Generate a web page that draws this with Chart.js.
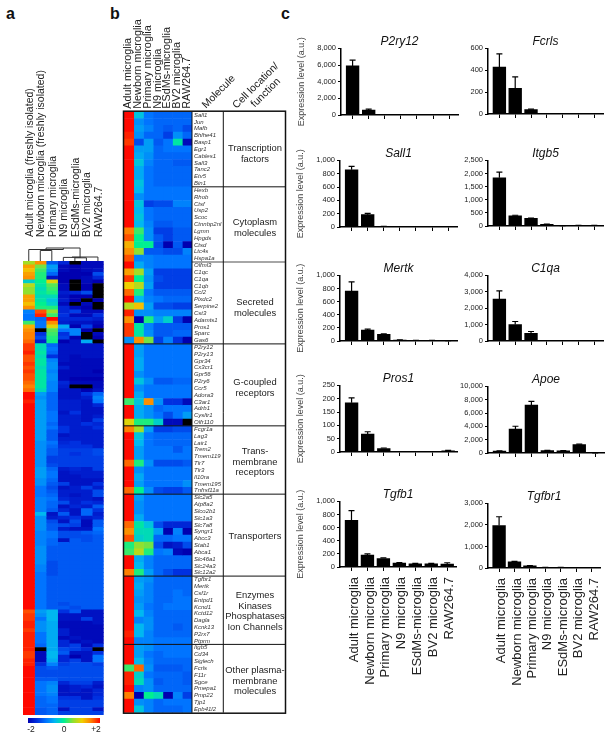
<!DOCTYPE html>
<html>
<head>
<meta charset="utf-8">
<script src="https://cdn.jsdelivr.net/npm/chart.js@4"></script>
<style>
  html, body { margin: 0; padding: 0; background: #fff; }
  body { position: relative; width: 612px; height: 738px; overflow: hidden; font-family: "Liberation Sans", Arial, sans-serif; color: #222; }
  canvas { position: absolute; }
  .txt { position: absolute; white-space: nowrap; }
  .letter { font-weight: bold; font-size: 16px; color: #111; }
  .group { width: 62px; left: 224px; text-align: center; font-size: 9.4px; line-height: 10.7px; white-space: nowrap; }
  .rot { font-size: 10.5px; transform: translate(-50%, -50%) rotate(-45deg); }
  .scale { font-size: 8.5px; transform: translateX(-50%); }
</style>
</head>
<body>
<div class="txt letter" style="left:6px;top:5px">a</div>
<div class="txt letter" style="left:110px;top:5px">b</div>
<div class="txt letter" style="left:281px;top:5px">c</div>

<canvas id="heatA" width="120" height="738" style="left:0;top:0"></canvas>
<canvas id="heatB" width="175" height="738" style="left:115px;top:0"></canvas>

<div class="txt rot" style="left:218px;top:91px">Molecule</div>
<div class="txt rot" style="left:255px;top:85px">Cell location/</div>
<div class="txt rot" style="left:265px;top:92px">function</div>

<div class="txt group" style="top:143px">Transcription<br>factors</div>
<div class="txt group" style="top:217px">Cytoplasm<br>molecules</div>
<div class="txt group" style="top:297px">Secreted<br>molecules</div>
<div class="txt group" style="top:377px">G-coupled<br>receptors</div>
<div class="txt group" style="top:446px">Trans-<br>membrane<br>receptors</div>
<div class="txt group" style="top:531px">Transporters</div>
<div class="txt group" style="top:590px">Enzymes<br>Kinases<br>Phosphatases<br>Ion Channels</div>
<div class="txt group" style="top:665px">Other plasma-<br>membrane<br>molecules</div>

<div id="scaleBar" style="position:absolute;left:28px;top:718px;width:72px;height:5px"></div>
<div class="txt scale" style="left:31px;top:724px">-2</div>
<div class="txt scale" style="left:64px;top:724px">0</div>
<div class="txt scale" style="left:96px;top:724px">+2</div>

<script>
const groupFont = '"Liberation Sans", Arial, sans-serif';

const columnsA = ["Adult microglia (freshly isolated)", "Newborn microglia (freshly isolated)", "Primary microglia", "N9 microglia", "ESdMs-microglia", "BV2 microglia", "RAW264.7"];
const columnsB = ["Adult microglia", "Newborn microglia", "Primary microglia", "N9 microglia", "ESdMs-microglia", "BV2 microglia", "RAW264.7"];

// z-scores; below -2.2 is drawn black
const rowsA = [
  [0.6,1.4,-1.2,-1.6,-2.3,-1.9,-1.9],
  [1.3,0.4,-0.7,-1.9,-2,-1.9,-1.9],
  [1.1,0.2,-0.8,-1.9,-2,-1.9,-1.8],
  [1.3,0.1,-1.1,-2,-2,-2,-1.3],
  [1.4,0.1,-1.8,-2,-2,-1.9,-1.6],
  [-0.3,0,0.9,-2,-2.3,-1.9,-2],
  [0.7,-0.1,0.3,-1.9,-2.5,-2,-2.5],
  [0.5,-0.2,0.2,-1.9,-2.5,-2.2,-2.5],
  [0.5,-0.1,0.1,-1.7,-1.6,-1.3,-2.5],
  [1.3,-0.2,-0.2,-1.8,-2,-2,-2.5],
  [1.3,-0.1,-0.4,-1.7,-2.2,-2.5,-2.2],
  [1.1,0,-0.3,-1.9,-2.5,-1.9,-2.5],
  [1.4,0.1,0.1,-1.6,-1.9,-2,-2.5],
  [-0.9,1.7,0.5,-1.6,-1.4,-1.9,-1.9],
  [-1,1.9,0.2,-1.5,-1.9,-1.9,-1.5],
  [-1,-1.1,2,-1.6,-1.6,-1.6,-1.7],
  [0.2,-1,1.4,-1.7,-1.8,-1.8,-1.9],
  [1.2,-1,0.9,-0.6,-2,-1.4,-2.2],
  [1.4,-2.5,0.3,-1,-0.9,-2,-2.4],
  [1.5,-1.5,0.2,-1.5,-0.9,-2.5,-1.9],
  [1.5,-1.3,0.1,-1.4,-2,-2.5,-2],
  [1.6,-1.7,0.05,-2.2,-1.8,-0.6,-2.4],
  [1.8,-0.2,-1.1,-1.8,-1.8,-1.8,-1.8],
  [1.8,-0.2,-1,-1.8,-1.8,-1.8,-1.8],
  [1.9,-0.1,-1.1,-1.8,-1.8,-1.8,-1.8],
  [1.7,-0.2,-1.5,-1.8,-1.9,-1.8,-1.8],
  [1.7,-0.1,-0.9,-1.8,-1.9,-1.9,-1.9],
  [1.8,-0.1,-0.8,-1.9,-1.9,-1.9,-1.9],
  [1.7,-0.2,-0.8,-1.7,-1.9,-1.9,-1.9],
  [1.8,-0.1,-0.9,-1.9,-1.9,-1.9,-2],
  [1.7,-0.1,-0.8,-1.9,-1.9,-1.9,-1.9],
  [1.7,-0.1,-0.8,-1.9,-2,-2,-2],
  [1.6,-0.1,-0.9,-1.6,-1.9,-1.9,-1.9],
  [1.5,-0.1,-0.9,-1.7,-2.3,-2.3,-1.9],
  [1.6,-0.2,-0.9,-1.8,-1.8,-2,-1.8],
  [2,-0.7,-1.1,-1.8,-1.8,-1.5,-1.1],
  [2,-0.8,-1.1,-1.8,-1.8,-1.7,-0.9],
  [1.9,-0.7,-1.1,-1.7,-1.7,-1.8,-1],
  [2,-0.7,-1.1,-1.7,-1.7,-1.8,-1.6],
  [2,-0.7,-1.1,-1.7,-1.7,-1.8,-1.8],
  [2,-0.7,-1,-1.8,-1.5,-1.8,-1.8],
  [2,-0.7,-1,-1.7,-1.7,-1.8,-1.7],
  [2,-0.7,-1,-1.7,-1.7,-1.8,-1.4],
  [2,-0.7,-1.1,-1.7,-1.7,-1.5,-1.6],
  [2,-0.7,-1,-1.5,-1.7,-1.7,-1.5],
  [2,-0.7,-1.2,-1.5,-1.7,-1.7,-1.7],
  [2,-0.7,-1.2,-1.8,-1.7,-1.7,-1.7],
  [2,-0.7,-1.2,-1.7,-1.7,-1.7,-1.7],
  [2,-0.8,-1,-1.6,-1.5,-1.7,-1.7],
  [2,-0.8,-1.1,-1.5,-1.5,-1.5,-1.7],
  [2,-0.8,-1.2,-1.4,-1.4,-1.4,-1.3],
  [2,-0.8,-1.2,-1.4,-1.5,-1.4,-1.3],
  [2,-0.8,-1.4,-1.4,-1.4,-1.4,-1.4],
  [2,-0.8,-1.4,-1.4,-1.4,-1.4,-1.4],
  [2,-0.8,-1.3,-1.4,-1.4,-1.4,-1.4],
  [2,-0.7,-1.1,-1.7,-1.6,-1.7,-1.4],
  [2,-0.7,-1,-1.8,-1.7,-1.7,-1.7],
  [2,-0.7,-1,-1.8,-1.8,-1.7,-1.7],
  [2,-0.8,-1.1,-1.8,-1.8,-1.8,-1.8],
  [2,-0.8,-1.2,-1.4,-1.8,-1.8,-1.5],
  [2,-1,-1.3,-1.8,-1.7,-1.4,-1.7],
  [2,-1,-1.2,-1.7,-1.7,-1.7,-1.3],
  [2,-1,-1.1,-1.7,-1.8,-1.7,-1.3],
  [2,-0.9,-1,-1.6,-1.7,-1.7,-1.8],
  [2,-0.9,-1.1,-1.3,-1.7,-1.5,-1.6],
  [2,-0.9,-1.1,-1.8,-1.6,-1.7,-1.2],
  [2,-0.9,-1.2,-1.6,-1.8,-1.1,-1.5],
  [2,-0.5,-1.8,-1.2,-1.8,-1.1,-1.7],
  [2,-0.8,-1.7,-1.6,-1.5,-1.7,-1.6],
  [2,-0.8,-1.3,-1.8,-1.3,-1.9,-1.2],
  [2,-0.8,-1.2,-1.3,-1.4,-1.9,-1.2],
  [2,-0.8,-1.2,-1.7,-1.8,-1.8,-1],
  [2,-0.9,-1,-1.3,-1.3,-1.2,-1.1],
  [2,-0.9,-1,-1.3,-1.3,-1.3,-1.2],
  [2,-0.9,-1.1,-1.8,-1.2,-1.3,-1.2],
  [2,-0.9,-1.1,-1.2,-1.2,-1.2,-1.2],
  [2,-0.8,-1.2,-1.2,-1.2,-1.2,-1.2],
  [2,-0.8,-1.2,-1.2,-1.2,-1.2,-1.2],
  [2,-0.8,-1.2,-1.2,-1.2,-1.2,-1.2],
  [2,-0.8,-1.2,-1.2,-1.2,-1.2,-1.2],
  [2,-0.8,-1.3,-1.2,-1.2,-1.2,-1.2],
  [2,-0.9,-1.3,-1.2,-1.2,-1.2,-1.2],
  [2,-0.9,-1.3,-1.2,-1.2,-1.2,-1.2],
  [2,-1,-1.3,-1.2,-1.2,-1.2,-1.2],
  [2,-1,-1.2,-1.2,-1.2,-1.2,-1.2],
  [2,-1,-1.2,-1.2,-1.2,-1.2,-1.2],
  [2,-1,-1.2,-1.2,-1.2,-1.2,-1.2],
  [2,-1,-1.2,-1.2,-1.2,-1.2,-1.2],
  [2,-1,-1.2,-1.2,-1.2,-1.2,-1.2],
  [2,-1,-1.2,-1.2,-1.2,-1.2,-1.2],
  [2,-1,-1.2,-1.2,-1.2,-1.2,-1.2],
  [2,-1,-1.2,-1.3,-1.2,-1.2,-1.2],
  [2,-1,-1.2,-1.2,-1.3,-1.2,-1.2],
  [1.7,-0.7,-0.5,-1.5,-1.2,-1.8,-1.8],
  [1.8,-0.8,-0.5,-1.8,-1.8,-1.8,-1.8],
  [1.8,-1,-0.5,-1.8,-1.8,-1.4,-1.8],
  [1.9,-0.8,-0.6,-1.9,-1.9,-1.9,-1.8],
  [1.9,-0.8,-0.6,-1.9,-1.9,-1.9,-1.9],
  [1.8,-0.8,-0.6,-1.7,-1.9,-1.9,-1.9],
  [1.9,-1,-0.6,-1.7,-1.9,-1.9,-1.9],
  [1.9,-1,-0.6,-1.9,-1.8,-1.9,-1.9],
  [1.9,-1,-0.6,-1.6,-1.9,-1.8,-1.9],
  [1.9,-1.1,-0.6,-1.6,-1.4,-1.9,-1.5],
  [1.9,-2.6,-0.6,-1.3,-1.4,-1.6,-2.6],
  [1.8,-1.9,-0.5,-1.2,-1.8,-1.8,-1.5],
  [1.8,-1.9,-0.5,-1.6,-2,-1.8,-1],
  [1.9,-1.9,-0.6,-1.6,-1.4,-1.8,-1],
  [1.9,-1.5,-0.9,-1.4,-1.3,-1.3,-1.4],
  [2,-1.3,-1.2,-1.3,-1.3,-1.3,-1.3],
  [2,-1.3,-1.3,-1.3,-1.3,-1.3,-1.3],
  [2,-1.3,-1.3,-1.3,-1.3,-1.3,-1.3],
  [2,-1.2,-1.2,-1.3,-1.3,-1.3,-1.3],
  [2,-1,-0.9,-1.6,-1.4,-1.4,-1.7],
  [2,-1,-0.8,-1.8,-1.7,-1.6,-1.8],
  [2,-1,-0.8,-1.8,-1.7,-1.8,-1.6],
  [2,-1,-0.9,-1.8,-1.8,-1.8,-1.6],
  [2,-1.1,-1,-1.5,-1.5,-1.8,-1.5],
  [2,-1.1,-1,-1.4,-1.4,-1.4,-1.4],
  [2,-1.1,-1.1,-1.4,-1.4,-1.4,-1.4],
  [2,-1.2,-1.1,-1.8,-1.4,-1.4,-1.8],
  [2,-1.2,-1.1,-1.4,-1.4,-1.4,-1.4]
];

const genes = [
  "Sall1","Jun","Mafb","Bhlhe41","Basp1","Egr1","Cables1","Sall3","Tanc2","Etv5","Bin1",
  "Hexb","Rhob","Ctsf","Usp2","Scoc","Ctnnbp2nl","Lgmn","Hpgds","Ctsd","Ltc4s","Hspa1a",
  "Olfml3","C1qc","C1qa","C1qb","Ccl2","Plxdc2","Serpine2","Cst3","Adamts1","Pros1","Sparc","Gas6",
  "P2ry12","P2ry13","Gpr34","Cx3cr1","Gpr56","P2ry6","Ccr5","Adora3","C3ar1","Adrb1","Cysltr1","Olfr110",
  "Fcgr1a","Lag3","Lair1","Trem2","Tmem119","Tlr7","Tlr3","Il10ra","Tmem195","Tnfrsf11a",
  "Slc2a5","Atp8a2","Slco2b1","Slc1a3","Slc7a8","Syngr1","Abcc3","Stab1","Abca1","Slc46a1","Slc24a3","Slc12a2",
  "Tgfbr1","Mertk","Csf1r","Entpd1","Kcnd1","Kctd12","Dagla","Kcnk13","P2rx7","Ptprm",
  "Itgb5","Cd34","Siglech","Fcrls","F11r","Sgce","Pmepa1","Pmp22","Tjp1","Epb41l2"
];
const groupSizes = [11, 11, 12, 12, 10, 12, 10, 10];

const rowsB = [
  [2,-0.4,-1,-1.1,-1.1,-1.1,-1.1],
  [2,-0.8,-1,-1.1,-1.1,-1.1,-1.1],
  [2,-0.7,-0.9,-1.1,-1.2,-1.1,-1.3],
  [1.9,-0.8,-1.1,-1.1,-1.4,-0.8,-1.1],
  [1.8,-1.3,-0.7,-1.2,-1,-0.1,-1.9],
  [2,-0.7,-0.7,-1.1,-1,-1,-1],
  [2,-0.6,-0.8,-1.1,-1.1,-1.1,-1.1],
  [2,-0.4,-0.9,-1.1,-1.1,-1.2,-1.2],
  [2,-0.6,-1,-1.1,-1.1,-1.1,-1.1],
  [2,-0.6,-1,-1.1,-1.1,-1.1,-1.1],
  [2,-0.4,-1,-1.1,-1.1,-1.1,-1.1],

  [2,-0.5,-1,-1,-1,-1,-1],
  [2,-0.8,-1,-1,-1,-1,-1],
  [2,-0.4,-1.4,-1.3,-1.3,-0.9,-0.9],
  [2,-0.5,-1,-1.1,-1.1,-1.1,-1.1],
  [2,-0.4,-1,-1.1,-1.1,-1.1,-1.1],
  [2,-0.5,-0.9,-1.2,-1.2,-1.1,-1.1],
  [1.5,0.2,-0.8,-1.4,-1.4,-1.2,-1.2],
  [1.7,0,-0.8,-1.2,-1.4,-1.2,-1.2],
  [1.2,0,0,-1.3,-2,-1.2,-2],
  [1.4,0.5,-1.2,-1.2,-1.3,-1.3,-0.9],
  [1.7,-0.9,-0.9,-1,-1,-1,-1],

  [2,-0.6,-0.9,-1,-1,-1,-1],
  [1.3,0.6,-0.7,-1.4,-1.4,-1.4,-1.4],
  [1.8,0,-0.8,-1.3,-1.4,-1.4,-1.4],
  [1,0.7,-0.7,-1.4,-1.4,-1.4,-1.4],
  [1.6,0.1,-1,-1.2,-1.2,-1.2,-1.2],
  [2,-0.5,-0.9,-1,-1.1,-1.1,-1.1],
  [0.7,1.1,-0.7,-1.3,-1.3,-1.4,-1.4],
  [1.9,-0.8,-0.8,-0.9,-0.9,-0.9,-0.9],
  [1.4,-2,0.1,-0.7,-0.3,-1.4,-2],
  [1.8,-0.1,-0.9,-1.2,-1.2,-1.2,-1.2],
  [1.8,-0.1,-0.8,-1.2,-1.2,-1.1,-1.1],
  [-0.8,1.4,0.4,-1.4,-0.9,-1.5,-2],

  [2,-0.7,-1,-1,-1,-1,-1],
  [2,-0.7,-1,-1,-1,-1,-1],
  [2,-0.6,-1,-1,-1,-1,-1],
  [2,-0.6,-1,-1,-1,-1,-1],
  [2,-0.8,-1,-1,-1,-1,-1],
  [2,-0.4,-0.8,-1.2,-1.2,-1.1,-1.1],
  [2,-0.8,-1,-1,-1,-1,-1],
  [2,-0.6,-1,-1,-1,-1,-1],
  [0.2,-0.4,1.4,-0.8,-1.5,-1.5,-1.9],
  [2,-0.6,-0.8,-1.1,-1,-1,-1],
  [2,-0.6,-0.8,-1,-1.3,-1,-0.7],
  [0.9,0.1,0.1,-0.3,-1.9,-1.9,-3],

  [1.5,0.6,-0.7,-1.4,-1.4,-1.3,-1.3],
  [2,-0.4,-1,-1.1,-1.1,-1.1,-1.1],
  [2,-0.5,-1,-1.1,-1.1,-1.1,-1.1],
  [2,-0.7,-1,-1,-1,-1.2,-1],
  [2,-0.7,-1,-1,-1,-1,-1],
  [1.6,0.1,-0.8,-1.3,-1.3,-1.3,-1.2],
  [2,-0.8,-1,-1,-1,-1,-1],
  [2,-0.6,-1,-1,-1,-1,-1],
  [2,-0.7,-1,-1,-1,-1,-0.8],
  [1.6,0,-0.8,-1.3,-1.4,-1.4,-1.2],

  [2,-0.7,-1,-1,-1,-1,-1],
  [2,-0.8,-1,-1,-1,-1,-1],
  [2,-0.8,-1,-1,-1,-1,-1],
  [2,-0.6,-1,-1,-1,-1,-1],
  [1.6,-0.1,-0.4,-1.3,-1.6,-1.6,-1.6],
  [1.4,-0.2,-0.2,-0.7,-2,-0.9,-2],
  [1.7,-0.3,-0.2,-1.1,-1.1,-1,-1],
  [0.1,0.5,0.4,-1.3,-1.8,-1.7,-1.3],
  [0.2,0.7,0.1,-1,-0.9,-1.9,-2],
  [2,-0.6,-0.9,-1.1,-1.1,-1.1,-1.1],
  [2,-0.5,-0.9,-1.1,-1.1,-1.1,-1.1],
  [1.5,0.1,-0.7,-1.1,-1.3,-1.5,-1.5],

  [2,-0.7,-0.8,-1.1,-1.1,-1.1,-1.1],
  [2,-0.6,-0.9,-1.1,-1.1,-1.1,-1.1],
  [2,-0.7,-0.9,-1.1,-1.1,-1,-1.1],
  [2,-0.8,-0.9,-1.1,-1.1,-1,-1],
  [2,-0.7,-1,-1.1,-1,-1,-1],
  [2,-0.5,-0.9,-1.1,-1.1,-1.1,-1.1],
  [2,-0.9,-0.8,-1.1,-1.1,-1.1,-1.1],
  [2,-0.5,-0.8,-1.1,-1.1,-1.2,-1.1],
  [1.9,-0.5,-0.9,-1.1,-1.1,-1.1,-1.1],
  [2,-0.9,-0.9,-1,-1,-1,-1],

  [2,-0.7,-0.8,-1,-1,-1,-1],
  [2,-0.7,-1,-1.1,-1,-1,-1],
  [2,-0.5,-0.9,-1.1,-1.1,-1.1,-1.1],
  [0.2,1.6,-0.8,-1.2,-1.2,-1.2,-1.1],
  [1.9,-0.3,-1,-1.1,-1.1,-1.1,-1.2],
  [1.9,-0.2,-0.8,-1.2,-1.1,-1.1,-1.2],
  [2,-0.9,-0.8,-1.1,-1.1,-1.1,-1.1],
  [1.5,-2,0,-0.2,-2,-0.9,-1.4],
  [2,-0.8,-0.9,-1.1,-1,-1,-1],
  [2,-0.4,-0.9,-1.1,-1.1,-1.1,-1]
];

// colour bar stops: z-score, colour
const heatStops = [
  [-2, "#0000b0"], [-1.5, "#0030e0"], [-1, "#0074ff"], [-0.5, "#00b8f0"],
  [0, "#00f090"], [0.5, "#90e030"], [1, "#f0d000"], [1.5, "#ff8000"], [2, "#ff0800"]
];

// [left col, left bottom, right col, right bottom, top] - heights in px above the heat map
const dendroLinks = [
  [1, 0, 2, 0, 10.5],
  [4, 0, 5, 0, 3.2],
  [3, 0, 4.5, 3.2, 3.6],
  [3.75, 3.6, 6, 0, 4],
  [1.5, 10.5, 4.45, 4, 13],
  [0, 0, 3, 13, 11.5]
];

const expressionLabels = columnsB;
const genesC = ["P2ry12", "Fcrls", "Sall1", "Itgb5", "Mertk", "C1qa", "Pros1", "Apoe", "Tgfb1", "Tgfbr1"];
const meansC = [
  [5900, 600, 0, 0, 0, 0, 0],
  [430, 235, 40, 3, 2, 1, 1],
  [860, 185, 8, 1, 1, 1, 1],
  [1840, 390, 290, 60, 15, 25, 25],
  [760, 165, 100, 15, 8, 8, 3],
  [2560, 1000, 470, 8, 5, 5, 5],
  [185, 67, 13, 1, 1, 1, 4],
  [280, 3600, 7200, 350, 320, 1250, 20],
  [710, 180, 130, 60, 50, 50, 45],
  [1970, 290, 100, 30, 25, 20, 20]
];
const errorsC = [
  [700, 100, 0, 0, 0, 0, 0],
  [120, 105, 5, 0, 0, 0, 0],
  [50, 20, 2, 0, 0, 0, 0],
  [210, 20, 15, 8, 3, 4, 4],
  [140, 15, 8, 2, 1, 1, 1],
  [500, 190, 110, 0, 0, 0, 0],
  [18, 9, 2, 0, 0, 0, 2],
  [30, 420, 550, 40, 30, 80, 5],
  [150, 20, 10, 6, 5, 6, 20],
  [410, 20, 15, 5, 3, 3, 3]
];
const yMaxC = [8000, 600, 1000, 2500, 1000, 4000, 250, 10000, 1000, 3000];
const yStepC = [2000, 200, 200, 500, 200, 1000, 50, 2000, 200, 1000];

function hexToRgb(h) {
  return [parseInt(h.slice(1, 3), 16), parseInt(h.slice(3, 5), 16), parseInt(h.slice(5, 7), 16)];
}

function heatColor(z) {
  if (z < -2.2) return "#000000";
  if (z <= heatStops[0][0]) return heatStops[0][1];
  for (let i = 1; i < heatStops.length; i++) {
    if (z <= heatStops[i][0]) {
      const a = heatStops[i - 1], b = heatStops[i];
      const t = (z - a[0]) / (b[0] - a[0]);
      const ca = hexToRgb(a[1]), cb = hexToRgb(b[1]);
      return "rgb(" + ca.map((v, k) => Math.round(v + (cb[k] - v) * t)).join(",") + ")";
    }
  }
  return heatStops[heatStops.length - 1][1];
}

document.getElementById("scaleBar").style.background =
  "linear-gradient(to right," + heatStops.map(s => s[1]).join(",") + ")";

function heatDatasets(rows, colCount) {
  const sets = [];
  for (let c = 0; c < colCount; c++) {
    sets.push({
      data: rows.map(() => 1),
      stack: "cells",
      barPercentage: 1,
      categoryPercentage: 1,
      backgroundColor: rows.map(r => heatColor(r[c]))
    });
  }
  return sets;
}

function colScale(names, fontSize, height, padding, labelOffset) {
  return {
    type: "linear",
    position: "top",
    min: 0,
    max: names.length,
    stacked: true,
    grid: { display: false, drawTicks: false },
    border: { display: false },
    afterBuildTicks: s => { s.ticks = names.map((n, i) => ({ value: i + 0.5 })); },
    afterFit: s => { s.height = height; s.paddingLeft = 0; s.paddingRight = 0; },
    ticks: {
      autoSkip: false,
      minRotation: 90,
      maxRotation: 90,
      padding: padding,
      labelOffset: labelOffset,
      color: "#222",
      font: { family: groupFont, size: fontSize },
      callback: v => names[Math.floor(v)]
    }
  };
}

const dendrogram = {
  id: "dendrogram",
  afterDraw(chart) {
    const x = chart.scales.x, top = chart.chartArea.top, ctx = chart.ctx;
    ctx.save();
    ctx.strokeStyle = "#333";
    ctx.lineWidth = 1;
    dendroLinks.forEach(l => {
      const xl = x.getPixelForValue(l[0] + 0.5), xr = x.getPixelForValue(l[2] + 0.5);
      ctx.beginPath();
      ctx.moveTo(xl, top - l[1]);
      ctx.lineTo(xl, top - l[4]);
      ctx.lineTo(xr, top - l[4]);
      ctx.lineTo(xr, top - l[3]);
      ctx.stroke();
    });
    ctx.restore();
  }
};

new Chart(document.getElementById("heatA"), {
  type: "bar",
  data: { labels: rowsA.map((r, i) => String(i)), datasets: heatDatasets(rowsA, 7) },
  plugins: [dendrogram],
  options: {
    indexAxis: "y",
    responsive: false,
    animation: false,
    layout: { padding: { left: 23, right: 16.3, bottom: 23 } },
    plugins: { legend: { display: false }, tooltip: { enabled: false } },
    scales: {
      x: colScale(columnsA, 10.5, 261, 24, 13.5),
      y: { display: false, stacked: true }
    }
  }
});

const groupLines = {
  id: "groupLines",
  afterDraw(chart) {
    const y = chart.scales.y, area = chart.chartArea, ctx = chart.ctx;
    const rightEdge = 170.5, divider = 108.3;
    const rowH = Math.abs(y.getPixelForValue(1) - y.getPixelForValue(0));
    ctx.save();
    ctx.strokeStyle = "#111";
    let row = 0;
    groupSizes.slice(0, -1).forEach((n, i) => {
      row += n;
      const py = y.getPixelForValue(row) - rowH / 2;
      ctx.beginPath();
      if (i === 1) {
        ctx.strokeStyle = "#888";
        ctx.lineWidth = 1.5;
        ctx.moveTo(area.right, py);
      } else {
        ctx.strokeStyle = "#111";
        ctx.lineWidth = 1;
        ctx.moveTo(i === 0 ? area.right : area.left, py);
      }
      ctx.lineTo(rightEdge, py);
      ctx.stroke();
    });
    ctx.strokeStyle = "#111";
    ctx.lineWidth = 1;
    [area.right, divider].forEach(px => {
      ctx.beginPath();
      ctx.moveTo(px, area.top);
      ctx.lineTo(px, area.bottom);
      ctx.stroke();
    });
    ctx.lineWidth = 1.5;
    ctx.strokeRect(area.left - 0.5, area.top - 0.5, rightEdge - area.left + 0.5, area.bottom - area.top + 1);
    ctx.restore();
  }
};

new Chart(document.getElementById("heatB"), {
  type: "bar",
  data: { labels: genes, datasets: heatDatasets(rowsB, 7) },
  plugins: [groupLines],
  options: {
    indexAxis: "y",
    responsive: false,
    animation: false,
    layout: { padding: { left: 9, bottom: 25.3 } },
    plugins: { legend: { display: false }, tooltip: { enabled: false } },
    scales: {
      x: colScale(columnsB, 10.8, 111.7, 3, 12.5),
      y: {
        position: "right",
        stacked: true,
        grid: { display: false, drawTicks: false },
        border: { display: false },
        afterFit: s => { s.width = 98; },
        ticks: {
          autoSkip: false,
          padding: 2,
          color: "#333",
          font: { family: groupFont, size: 6, style: "italic" }
        }
      }
    }
  }
});

// panel c: one chart per gene, [axis x, y of zero, y of max, right end of axis]
const panelBoxes = [
  [340.7, 115, 48.7, 457.7],
  [488.3, 114.7, 48.7, 603.7],
  [340, 226.7, 160, 456.7],
  [487.7, 226.7, 160.7, 603],
  [340, 340.7, 275, 456.7],
  [487.7, 341, 275.3, 603],
  [340, 452.7, 385.7, 456.7],
  [488, 452.7, 386.3, 604],
  [340, 567.7, 501.7, 455.5],
  [487.7, 567.7, 503.3, 600]
];

const errorBars = {
  id: "errorBars",
  afterDatasetsDraw(chart, args, opts) {
    const x = chart.scales.x, y = chart.scales.y, ctx = chart.ctx;
    ctx.save();
    ctx.strokeStyle = "#000";
    ctx.lineWidth = 1.2;
    opts.values.forEach((e, i) => {
      if (e <= 0) return;
      const m = chart.data.datasets[0].data[i].y;
      const px = x.getPixelForValue(i);
      const top = y.getPixelForValue(m + e), base = y.getPixelForValue(m);
      ctx.beginPath();
      ctx.moveTo(px, base);
      ctx.lineTo(px, top);
      ctx.moveTo(px - 3, top);
      ctx.lineTo(px + 3, top);
      ctx.stroke();
    });
    ctx.restore();
  }
};

genesC.forEach((gene, g) => {
  const box = panelBoxes[g];
  const yWidth = 45, titleH = 14.4, padTop = 14;
  const withLabels = g >= 8, withAxisTitle = g % 2 === 0;
  const bottom = withLabels ? 135 : 8, padBottom = withLabels ? 0 : 14;
  const canvas = document.createElement("canvas");
  canvas.width = Math.round(box[3] - box[0] + yWidth + 3);
  canvas.height = Math.round(box[1] - box[2] + titleH + padTop + bottom + padBottom);
  canvas.style.left = (box[0] - yWidth) + "px";
  canvas.style.top = (box[2] - titleH - padTop) + "px";
  document.body.appendChild(canvas);

  new Chart(canvas, {
    type: "bar",
    data: {
      datasets: [{
        data: meansC[g].map((v, i) => ({ x: i, y: v })),
        backgroundColor: "#000",
        barThickness: 12.7
      }]
    },
    plugins: [errorBars],
    options: {
      responsive: false,
      animation: false,
      layout: { padding: { top: padTop, right: 3, bottom: padBottom } },
      plugins: {
        legend: { display: false },
        tooltip: { enabled: false },
        errorBars: { values: errorsC[g] },
        title: {
          display: true,
          text: gene,
          fullSize: false,
          color: "#111",
          padding: 0,
          font: { family: groupFont, size: 12, style: "italic", weight: "normal" }
        }
      },
      scales: {
        x: {
          type: "linear",
          offset: false,
          min: -0.72,
          max: 6.55,
          grid: { offset: false, drawOnChartArea: false, tickLength: 4, color: "#000", tickWidth: 1 },
          border: { color: "#000", width: 1.5 },
          afterBuildTicks: s => { s.ticks = expressionLabels.map((n, i) => ({ value: i })); },
          afterFit: s => { s.height = bottom; s.paddingLeft = 0; s.paddingRight = 0; },
          ticks: {
            autoSkip: false,
            minRotation: withLabels ? 90 : 0,
            maxRotation: withLabels ? 90 : 0,
            padding: 6,
            labelOffset: withLabels ? 2.5 : 0,
            color: "#222",
            font: { family: groupFont, size: 13 },
            callback: v => withLabels ? expressionLabels[v] : ""
          }
        },
        y: {
          min: 0,
          max: yMaxC[g],
          grid: { drawOnChartArea: false, tickLength: 3, color: "#000", tickWidth: 1 },
          border: { color: "#000", width: 1.5 },
          afterBuildTicks: s => {
            const t = [];
            for (let v = 0; v <= yMaxC[g]; v += yStepC[g]) t.push({ value: v });
            s.ticks = t;
          },
          afterFit: s => { s.width = yWidth; },
          title: {
            display: withAxisTitle,
            text: "Expression level (a.u.)",
            color: "#444",
            padding: 0,
            font: { family: groupFont, size: 9 }
          },
          ticks: {
            padding: 2,
            color: "#222",
            font: { family: groupFont, size: 7.5 },
            callback: v => v.toLocaleString("en-US")
          }
        }
      }
    }
  });
});
</script>
</body>
</html>
